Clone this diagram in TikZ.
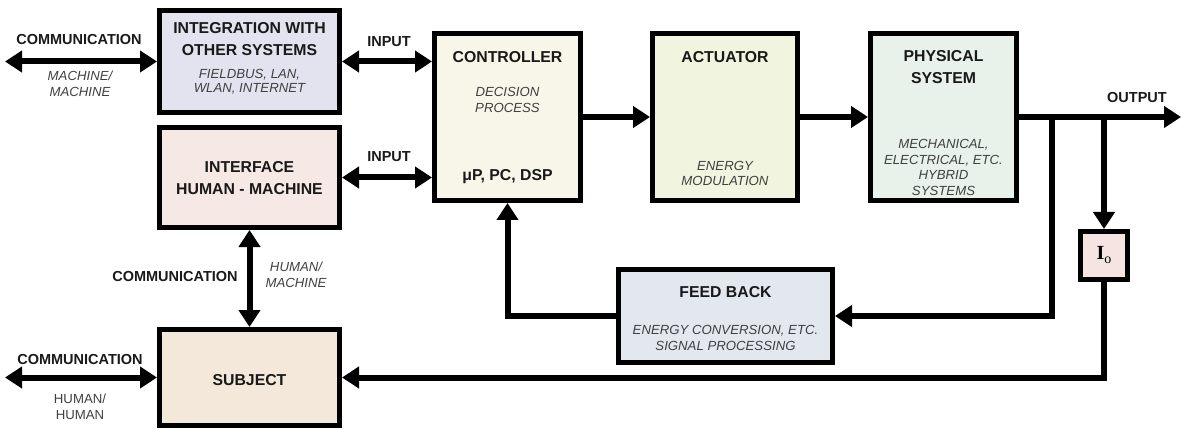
\documentclass[tikz,border=0pt]{standalone}
\usepackage{fontspec}
\setmainfont{Liberation Sans}
\newfontfamily\serifface{Liberation Serif}
\usepackage{xcolor}
\usetikzlibrary{arrows.meta,positioning}

\definecolor{cInteg}{HTML}{E3E3F0}
\definecolor{cIface}{HTML}{F5E8E5}
\definecolor{cCtrl}{HTML}{F8F6E8}
\definecolor{cAct}{HTML}{F1F4DF}
\definecolor{cPhys}{HTML}{E8F1EA}
\definecolor{cFb}{HTML}{E3E7EE}
\definecolor{cSubj}{HTML}{F4E8DA}
\definecolor{cIo}{HTML}{F5E4E2}

\begin{document}
\begin{tikzpicture}[x=1pt, y=-1pt,
    blk/.style={draw=black, line width=5pt, inner sep=0pt},
    ttl/.style={font=\bfseries\fontsize{15.8}{22}\selectfont, text=black!90, align=center, inner sep=0pt},
    note/.style={font=\itshape\fontsize{13.2}{15.8}\selectfont, text=black!75, align=center, inner sep=0pt},
    lbl/.style={font=\bfseries\fontsize{14.5}{17}\selectfont, text=black!90, inner sep=0pt},
    wire/.style={line width=6pt, -{Triangle[length=17pt,width=21pt]}},
    bus/.style={line width=6pt, {Triangle[length=17pt,width=21pt]}-{Triangle[length=17pt,width=21pt]}}]
    \useasboundingbox (0,0) rectangle (1182,430);

    % boxes
    \node[blk, fill=cInteg, minimum width=180pt, minimum height=102pt] (integ) at (249.5,61.5) {};
    \node[blk, fill=cIface, minimum width=180pt, minimum height=100pt] (iface) at (249.5,177.5) {};
    \node[blk, fill=cSubj, minimum width=180pt, minimum height=96pt] (subj) at (249.5,377.5) {};
    \node[blk, fill=cCtrl, minimum width=146pt, minimum height=167pt] (ctrl) at (507.5,117) {};
    \node[blk, fill=cAct, minimum width=145pt, minimum height=167pt] (act) at (725,117) {};
    \node[blk, fill=cPhys, minimum width=146pt, minimum height=167pt] (phys) at (943.5,117) {};
    \node[blk, fill=cFb, minimum width=214pt, minimum height=93pt] (fb) at (725.5,316) {};
    \node[blk, fill=cIo, minimum width=47pt, minimum height=48pt] (io) at (1104,255.5)
        {{\serifface\bfseries\fontsize{20}{20}\selectfont I}\raisebox{-4pt}{\serifface\fontsize{14}{14}\selectfont o}};

    % box texts
    \node[ttl] (integT) at (249.5,39) {INTEGRATION WITH\\OTHER SYSTEMS};
    \node[note, font=\itshape\fontsize{13.2}{14}\selectfont] (integN) at (249.5,82) {FIELDBUS, LAN,\\WLAN, INTERNET};
    \node[ttl] (ifaceT) at (249.5,178.5) {INTERFACE\\HUMAN - MACHINE};
    \node[ttl] (subjT) at (249.5,380) {SUBJECT};
    \node[ttl] (ctrlT) at (507.5,57) {CONTROLLER};
    \node[note] (ctrlN) at (507.5,100) {DECISION\\PROCESS};
    \node[ttl] (ctrlP) at (507.5,177) {μP, PC, DSP};
    \node[ttl] (actT) at (725,57) {ACTUATOR};
    \node[note] (actN) at (725,173.5) {ENERGY\\MODULATION};
    \node[ttl] (physT) at (943.5,67.5) {PHYSICAL\\SYSTEM};
    \node[note] (physN) at (943.5,167.5) {MECHANICAL,\\ELECTRICAL, ETC.\\HYBRID\\SYSTEMS};
    \node[ttl] (fbT) at (725.5,292) {FEED BACK};
    \node[note] (fbN) at (725.5,338) {ENERGY CONVERSION, ETC.\\SIGNAL PROCESSING};

    % free ends and taps
    \coordinate (commA) at (5,61.5);
    \coordinate (commB) at (5,377.5);
    \coordinate (outEnd) at (1181,117);
    \coordinate (tapA) at (1052,117);
    \coordinate (tapB) at (1104,117);

    % connectors
    \draw[bus] (commA) -- (integ.west);
    \draw[bus] (commB) -- (subj.west);
    \draw[bus] (integ.east) -- (integ.east -| ctrl.west);
    \draw[bus] (iface.east) -- (iface.east -| ctrl.west);
    \draw[bus] (iface.south) -- (subj.north);
    \draw[wire] (ctrl) -- (act);
    \draw[wire] (act) -- (phys);
    \draw[wire] (phys.east) -- (outEnd);
    \draw[wire] (tapB) -- (io.north);
    \draw[wire] (tapA) |- (fb.east);
    \draw[wire] (fb.west) -| (ctrl.south);
    \draw[wire] (io.south) |- (subj.east);

    % labels
    \node[lbl] (commAL) at (79,40) {COMMUNICATION};
    \node[note] (commAN) at (80,84) {MACHINE/\\MACHINE};
    \node[lbl] (inA) at (389,42) {INPUT};
    \node[lbl] (inB) at (389,157) {INPUT};
    \node[lbl] (outL) at (1137,98) {OUTPUT};
    \node[lbl] (commCL) at (175,277) {COMMUNICATION};
    \node[note] (commCN) at (296,275) {HUMAN/\\MACHINE};
    \node[lbl] (commBL) at (80,360) {COMMUNICATION};
    \node[note, font=\fontsize{13.2}{15.8}\selectfont] (commBN) at (80,407) {HUMAN/\\HUMAN};
\end{tikzpicture}
\end{document}
